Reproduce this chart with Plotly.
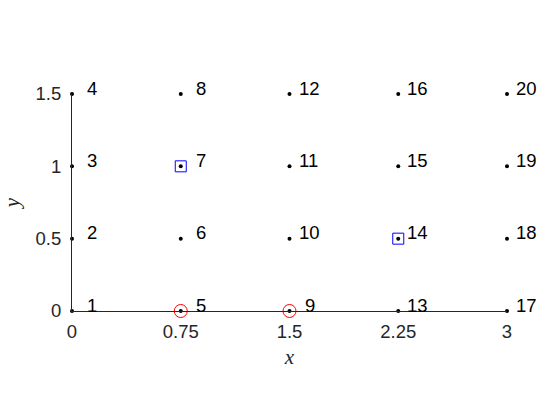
import plotly.graph_objects as go

# ---- data ----
node_ids = list(range(1, 21))
node_x = [0, 0, 0, 0,
          0.75, 0.75, 0.75, 0.75,
          1.5, 1.5, 1.5, 1.5,
          2.25, 2.25, 2.25, 2.25,
          3, 3, 3, 3]
node_y = [0, 0.5, 1, 1.5] * 5
circled_nodes = [5, 9]
boxed_nodes = [7, 14]
x_ticks = [0, 0.75, 1.5, 2.25, 3]
x_ticklabels = ["0", "0.75", "1.5", "2.25", "3"]
y_ticks = [0, 0.5, 1, 1.5]
y_ticklabels = ["0", "0.5", "1", "1.5"]

FONT = "Liberation Sans, Arial, sans-serif"
SERIF = "Liberation Serif, Times New Roman, serif"

fig = go.Figure()

cx = [node_x[n - 1] for n in circled_nodes]
cy = [node_y[n - 1] for n in circled_nodes]
fig.add_trace(go.Scatter(x=cx, y=cy, mode="markers", cliponaxis=False,
                         marker=dict(symbol="circle-open", size=13,
                                     color="#ff0000", line=dict(width=1, color="#ff0000")),
                         showlegend=False, hoverinfo="skip"))
bx = [node_x[n - 1] for n in boxed_nodes]
by = [node_y[n - 1] for n in boxed_nodes]
fig.add_trace(go.Scatter(x=bx, y=by, mode="markers", cliponaxis=False,
                         marker=dict(symbol="square-open", size=11,
                                     color="#0000ff", line=dict(width=1, color="#0000ff")),
                         showlegend=False, hoverinfo="skip"))
fig.add_trace(go.Scatter(x=node_x, y=node_y, mode="markers", cliponaxis=False,
                         marker=dict(symbol="circle", size=4, color="black"),
                         showlegend=False))

for nid, xv, yv in zip(node_ids, node_x, node_y):
    lab = str(nid)
    fig.add_annotation(x=xv, y=yv, text=lab, showarrow=False,
                       xanchor="left", yanchor="middle",
                       xshift=13 if len(lab) == 1 else 7, yshift=6,
                       font=dict(family=FONT, size=18.5, color="black"))

fig.update_layout(
    width=560, height=420,
    margin=dict(l=72, r=53, t=94, b=109),
    paper_bgcolor="white", plot_bgcolor="white",
    font=dict(family=FONT, size=18.5, color="#262626"),
)
fig.update_xaxes(range=[0, 3], tickvals=x_ticks, ticktext=x_ticklabels,
                 showgrid=False, zeroline=False, showline=True, linecolor="#262626",
                 linewidth=1, ticks="", ticklabelstandoff=4,
                 title=dict(text="<i>x</i>", font=dict(family=SERIF, size=21, color="#262626"),
                            standoff=8))
fig.update_yaxes(range=[0, 1.5], tickvals=y_ticks, ticktext=y_ticklabels,
                 showgrid=False, zeroline=False, showline=True, linecolor="#262626",
                 linewidth=1, ticks="", ticklabelstandoff=6,
                 title=dict(text="<i>y</i>", font=dict(family=SERIF, size=21, color="#262626"),
                            standoff=10))

fig.write_html("out.html")
